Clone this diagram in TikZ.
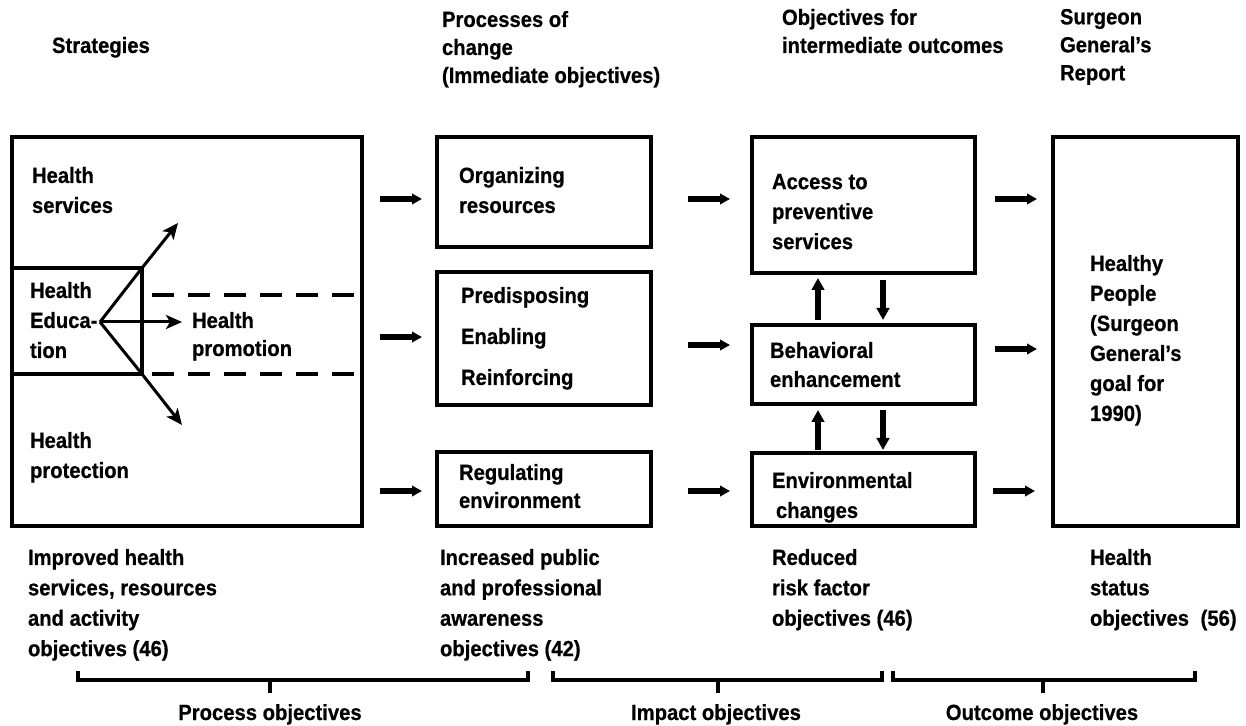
\documentclass[tikz,border=0pt]{standalone}
\usepackage{fontspec}
\setmainfont{Liberation Sans}[FakeStretch=0.92,FakeBold=0.6]
\usetikzlibrary{arrows.meta,fit,calc}
\begin{document}
\begin{tikzpicture}[x=0.5pt,y=-0.5pt,
  box/.style={draw,line width=1.8pt,inner sep=0pt,outer sep=0pt},
  lbl/.style={anchor=north west,inner sep=0pt,outer sep=0pt,align=left,font=\fontsize{11}{15}\selectfont\bfseries},
  hdr/.style={lbl,font=\fontsize{11}{14}\selectfont\bfseries},
  fat/.style={line width=2.8pt,-{Triangle[length=5pt,width=5.2pt]}},
  vfat/.style={line width=2.9pt,-{Triangle[length=6pt,width=6.2pt]}},
  fan/.style={line width=1.5pt},
  fantip/.style={fan,-{Stealth[length=8pt,width=7pt,inset=2pt]}},
  dashln/.style={line width=1.6pt,dash pattern=on 11pt off 7pt},
  brk/.style={line width=1.6pt},
  foot/.style={inner sep=0pt,anchor=base,font=\fontsize{11}{15}\selectfont\bfseries}
]
\fill[white] (0,0) rectangle (1246,726);
\useasboundingbox (0,0) rectangle (1246,726);

% headers
\node[lbl] (hStrat) at (52,37) {Strategies};
\node[hdr] (hProc) at (442,11) {Processes of\\change\\(Immediate objectives)};
\node[hdr] (hObj) at (782,9) {Objectives for\\intermediate outcomes};
\node[hdr] (hSG) at (1060,9) {Surgeon\\General’s\\Report};

% boxes
\node[box,fit={(12,137)(362,526)}] (outer) {};
\node[box,fit={(12,268)(142,374)}] (he) {};
\node[box,fit={(437,137)(651,247)}] (org) {};
\node[box,fit={(437,272)(651,405)}] (pre) {};
\node[box,fit={(437,452)(651,526)}] (reg) {};
\node[box,fit={(752,137)(975,273)}] (acc) {};
\node[box,fit={(752,325)(975,404)}] (beh) {};
\node[box,fit={(752,453)(975,526)}] (env) {};
\node[box,fit={(1053,137)(1238,526)}] (hp) {};

% box texts
\node[lbl] (tHS) at (32,167) {Health\\services};
\node[lbl] (tHE) at (30,282) {Health\\Educa-\\tion};
\node[lbl,font=\fontsize{11}{14}\selectfont\bfseries] (tHPm) at (192,312) {Health\\promotion};
\node[lbl] (tHPt) at (30,432) {Health\\protection};
\node[lbl] (tOrg) at (459,167) {Organizing\\resources};
\node[lbl,font=\fontsize{11}{20.5}\selectfont\bfseries] (tPre) at (461,287) {Predisposing\\Enabling\\Reinforcing};
\node[lbl,font=\fontsize{11}{14}\selectfont\bfseries] (tReg) at (459,464) {Regulating\\environment};
\node[lbl] (tAcc) at (772,174) {Access to\\preventive\\services};
\node[lbl,font=\fontsize{11}{14.5}\selectfont\bfseries] (tBeh) at (770,342) {Behavioral\\enhancement};
\node[lbl] (tEnv) at (772,472) {Environmental\\\hspace{2pt}changes};
\node[lbl] (tHP) at (1090,255) {Healthy\\People\\(Surgeon\\General’s\\goal for\\1990)};

% bottom labels
\node[lbl,font=\fontsize{11}{15.2}\selectfont\bfseries] (bImp) at (28,549) {Improved health\\services, resources\\and activity\\objectives (46)};
\node[lbl,font=\fontsize{11}{15.2}\selectfont\bfseries] (bInc) at (440,549) {Increased public\\and professional\\awareness\\objectives (42)};
\node[lbl,font=\fontsize{11}{15.2}\selectfont\bfseries] (bRed) at (772,549) {Reduced\\risk factor\\objectives (46)};
\node[lbl,font=\fontsize{11}{15.2}\selectfont\bfseries] (bHS) at (1090,549) {Health\\status\\objectives\hspace{3pt} (56)};

% fan inside strategies box
\coordinate (O) at (100,322);
\coordinate (upTip) at (178,223);
\coordinate (rTip) at (182,322);
\coordinate (dTip) at (182,425);
\draw[fantip,line join=round] (O) -- (he.north east) -- (upTip);
\draw[fantip,line join=round] (O) -- (he.south east) -- (dTip);
\draw[fantip] (O) -- (rTip);
\coordinate (d1) at (152,295);
\coordinate (d2) at (152,374);
\draw[dashln] (d1) -- (d1 -| outer.east);
\draw[dashln] (d2) -- (d2 -| outer.east);

% horizontal arrows
\coordinate (r1) at (0,199);
\coordinate (r2a) at (0,337);
\coordinate (r2b) at (0,345);
\coordinate (r2c) at (0,349);
\coordinate (r3) at (0,491);
\draw[fat] ($(outer.east |- r1)+(18,0)$) -- ($(org.west |- r1)+(-15,0)$);
\draw[fat] ($(outer.east |- r2a)+(18,0)$) -- ($(pre.west |- r2a)+(-15,0)$);
\draw[fat] ($(outer.east |- r3)+(18,0)$) -- ($(reg.west |- r3)+(-15,0)$);
\draw[fat] ($(org.east |- r1)+(37,0)$) -- ($(acc.west |- r1)+(-22,0)$);
\draw[fat] ($(pre.east |- r2b)+(37,0)$) -- ($(beh.west |- r2b)+(-22,0)$);
\draw[fat] ($(reg.east |- r3)+(37,0)$) -- ($(env.west |- r3)+(-22,0)$);
\draw[fat] ($(acc.east |- r1)+(20,0)$) -- ($(hp.west |- r1)+(-16,0)$);
\draw[fat] ($(beh.east |- r2c)+(20,0)$) -- ($(hp.west |- r2c)+(-16,0)$);
\draw[fat] ($(env.east |- r3)+(18,0)$) -- ($(hp.west |- r3)+(-18,0)$);

% vertical arrows
\coordinate (ux) at (818,0);
\coordinate (dx) at (883,0);
\draw[vfat] ($(beh.north -| ux)+(0,-5)$) -- ($(acc.south -| ux)+(0,5)$);
\draw[vfat] ($(acc.south -| dx)+(0,7)$) -- ($(beh.north -| dx)+(0,-5)$);
\draw[vfat] ($(env.north -| ux)+(0,-3)$) -- ($(beh.south -| ux)+(0,6)$);
\draw[vfat] ($(beh.south -| dx)+(0,6)$) -- ($(env.north -| dx)+(0,-3)$);

% brackets
\node[foot] (lProc) at (270,720) {Process objectives};
\node[foot] (lImp) at (716,720) {Impact objectives};
\node[foot] (lOut) at (1042,720) {Outcome objectives};
\draw[brk] (78,671) -- (78,680) -- (528,680) -- (528,671);
\draw[brk] (270,680) -- (270,693);
\draw[brk] (553,671) -- (553,680) -- (882,680) -- (882,671);
\draw[brk] (718,680) -- (718,693);
\draw[brk] (893,671) -- (893,680) -- (1195,680) -- (1195,671);
\draw[brk] (1043,680) -- (1043,693);
\end{tikzpicture}
\end{document}
